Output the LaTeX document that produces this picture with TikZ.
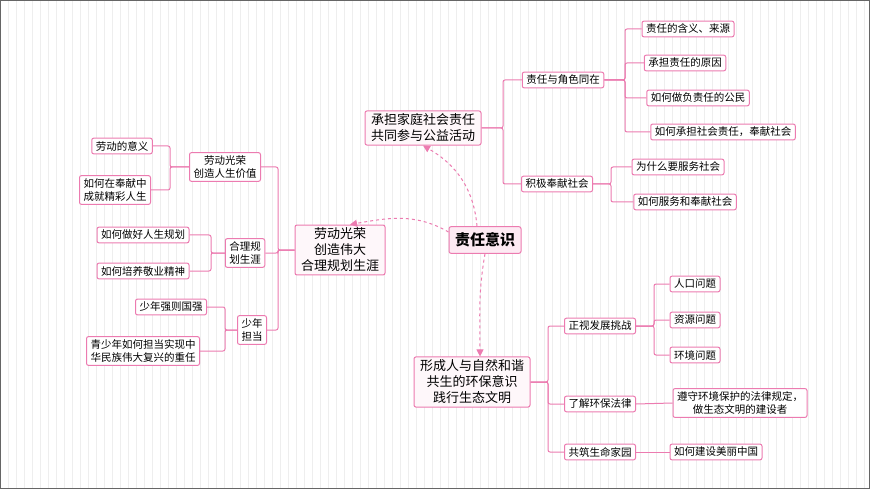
\documentclass[tikz,border=0pt]{standalone}
\usepackage{fontspec}
\setmainfont{Noto Sans CJK SC}
\usetikzlibrary{arrows.meta}
\definecolor{pk}{HTML}{EC7BB0}
\definecolor{pkfill}{HTML}{FDEAF3}
\definecolor{gridc}{HTML}{EEEEEE}
\tikzset{
 box/.style={draw=pk,line width=1pt,rounded corners=2pt,fill=white,align=center,inner xsep=4pt,inner ysep=3pt,font=\fontsize{10.5}{13}\selectfont},
 mainbox/.style={box,fill=pkfill!40,font=\fontsize{13}{16}\selectfont,inner xsep=6pt},
 rootbox/.style={box,fill=pkfill,font=\fontsize{15}{18}\selectfont\bfseries,inner xsep=6pt,inner ysep=6pt},
 link/.style={draw=pk,line width=1pt,rounded corners=2pt},
 darr/.style={draw=pk,line width=1pt,dashed,-{Triangle[length=7pt,width=7pt]}}
}
\begin{document}
\begin{tikzpicture}[x=1pt,y=-1pt]
\useasboundingbox (0,0) rectangle (870,489);
\fill[white] (0,0) rectangle (870,489);
\draw[gridc,line width=0.3pt,step=8] (0,0) grid (870,489);
\draw[black!60] (0.5,0.5) rectangle (869.5,488.5);
% root
\node[rootbox] (r) at (485,240) {责任意识};
% top branch
\node[mainbox] (t) at (423,128) {承担家庭社会责任\\共同参与公益活动};
\node[box] (t1) at (563,80) {责任与角色同在};
\node[box] (t2) at (557,184) {积极奉献社会};
\node[box] (t11) at (688,29) {责任的含义、来源};
\node[box] (t12) at (685,63) {承担责任的原因};
\node[box] (t13) at (698,98) {如何做负责任的公民};
\node[box] (t14) at (723,132) {如何承担社会责任，奉献社会};
\node[box] (t21) at (678,167) {为什么要服务社会};
\node[box] (t22) at (685,202) {如何服务和奉献社会};
\coordinate (bt) at (503,0);
\coordinate (bt1) at (625,0);
\coordinate (bt2) at (611,0);
\foreach \c in {t1,t2} \draw[link] (t.east) -- (t.east -| bt) |- (\c.west);
\foreach \c in {t11,t12,t13,t14} \draw[link] (t1.east) -- (t1.east -| bt1) |- (\c.west);
\foreach \c in {t21,t22} \draw[link] (t2.east) -- (t2.east -| bt2) |- (\c.west);
% left branch
\node[mainbox] (l) at (340,250) {劳动光荣\\创造伟大\\合理规划生涯};
\node[box] (l1) at (225,167) {劳动光荣\\创造人生价值};
\node[box] (l2) at (245,253) {合理规\\划生涯};
\node[box] (l3) at (252,330) {少年\\担当};
\node[box] (l11) at (122,146) {劳动的意义};
\node[box] (l12) at (115,190) {如何在奉献中\\成就精彩人生};
\node[box] (l21) at (143,235) {如何做好人生规划};
\node[box] (l22) at (143,271) {如何培养敬业精神};
\node[box] (l31) at (171,307) {少年强则国强};
\node[box] (l32) at (143,351) {青少年如何担当实现中\\华民族伟大复兴的重任};
\coordinate (bl) at (278,0);
\coordinate (bl1) at (170,0);
\coordinate (bl2) at (211,0);
\coordinate (bl3) at (225,0);
\foreach \c in {l1,l2,l3} \draw[link] (l.west) -- (l.west -| bl) |- (\c.east);
\foreach \c in {l11,l12} \draw[link] (l1.west) -- (l1.west -| bl1) |- (\c.east);
\foreach \c in {l21,l22} \draw[link] (l2.west) -- (l2.west -| bl2) |- (\c.east);
\foreach \c in {l31,l32} \draw[link] (l3.west) -- (l3.west -| bl3) |- (\c.east);
% bottom branch
\node[mainbox] (b) at (472,382) {形成人与自然和谐\\共生的环保意识\\践行生态文明};
\node[box] (b1) at (600,326) {正视发展挑战};
\node[box] (b2) at (600,404) {了解环保法律};
\node[box] (b3) at (600,452) {共筑生命家园};
\node[box] (b11) at (695,284) {人口问题};
\node[box] (b12) at (695,320) {资源问题};
\node[box] (b13) at (695,355) {环境问题};
\node[box] (b21) at (740,403) {遵守环境保护的法律规定，\\做生态文明的建设者};
\node[box] (b31) at (716,452) {如何建设美丽中国};
\coordinate (bb) at (548,0);
\coordinate (bb1) at (654,0);
\foreach \c in {b1,b2,b3} \draw[link] (b.east) -- (b.east -| bb) |- (\c.west);
\foreach \c in {b11,b12,b13} \draw[link] (b1.east) -- (b1.east -| bb1) |- (\c.west);
\draw[link] (b2.east) -- (b21.west);
\draw[link] (b3.east) -- (b31.west);
% dashed arrows
\draw[darr] (r.north) ++(-8,0) to[out=95,in=-30] (t.south);
\draw[darr] (r.west) ++(0,-8) to[out=150,in=10] ([xshift=10pt]l.north);
\draw[darr] (r.south) to[out=-100,in=90] ([xshift=8pt]b.north);
\end{tikzpicture}
\end{document}
